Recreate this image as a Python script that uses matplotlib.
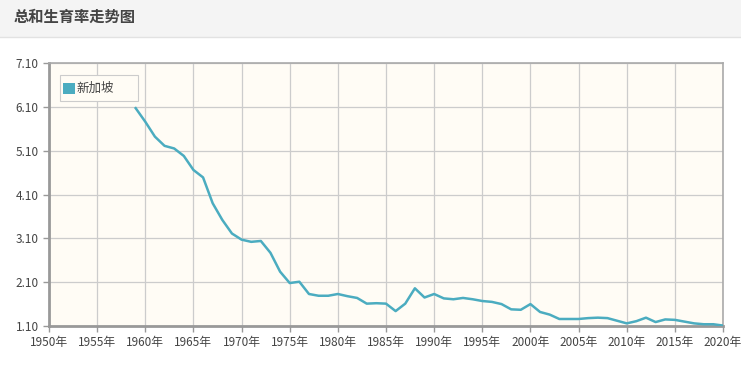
import matplotlib
matplotlib.use("Agg")
import matplotlib.pyplot as plt
from matplotlib.patches import Rectangle

plt.rcParams['font.family'] = ['Noto Sans CJK SC', 'DejaVu Sans']

# 新加坡 总和生育率
years = list(range(1959, 2021))
tfr = [6.07, 5.76, 5.42, 5.21, 5.15, 4.98, 4.66, 4.49, 3.90, 3.52,
       3.21, 3.07, 3.02, 3.04, 2.77, 2.34, 2.08, 2.11, 1.83, 1.79,
       1.79, 1.83, 1.78, 1.74, 1.61, 1.62, 1.61, 1.44, 1.61, 1.96,
       1.75, 1.83, 1.73, 1.71, 1.74, 1.71, 1.67, 1.65, 1.60, 1.48,
       1.47, 1.60, 1.42, 1.36, 1.26, 1.26, 1.26, 1.28, 1.29, 1.28,
       1.22, 1.16, 1.21, 1.29, 1.19, 1.25, 1.24, 1.20, 1.16, 1.14,
       1.14, 1.11]
xticks = list(range(1950, 2021, 5))
yticks = [1.10, 2.10, 3.10, 4.10, 5.10, 6.10, 7.10]
series_name = "新加坡"
title = "总和生育率走势图"
line_color = "#4bacc0"

W, H = 741, 366
fig = plt.figure(figsize=(W/100, H/100), dpi=100)
fig.patch.set_facecolor("white")

def px(x, y):
    # pixel (from top-left) -> figure fraction
    return x / W, 1 - y / H

# header bar
fig.patches.append(Rectangle(px(0, 37), 1, 37/H, transform=fig.transFigure,
                             facecolor="#f4f4f4", edgecolor="none", zorder=0))
fig.lines.append(plt.Line2D([0, 1], [1 - 37/H, 1 - 37/H], transform=fig.transFigure,
                            color="#e2e2e2", lw=1))
fig.text(*px(14, 17), title, fontsize=11, fontweight="bold",
         color="#444444", va="center", ha="left")

ax = fig.add_axes([49/W, 1 - 326/H, 674/W, 263/H])
ax.set_facecolor("#fffcf5")
ax.plot(years, tfr, color=line_color, lw=1.8, zorder=3)

ax.set_xlim(1950, 2020)
ax.set_ylim(1.10, 7.10)
ax.set_xticks(xticks)
ax.set_xticklabels([f"{y}年" for y in xticks])
ax.set_yticks(yticks)
ax.set_yticklabels([f"{v:.2f}" for v in yticks])
ax.grid(True, color="#cccccc", lw=0.9)
ax.tick_params(axis="both", labelsize=8.5, colors="#999999", labelcolor="#444444",
               length=4, width=1)
for side in ["left", "bottom"]:
    ax.spines[side].set_color("#999999")
    ax.spines[side].set_linewidth(2)
for side in ["top", "right"]:
    ax.spines[side].set_color("#aaaaaa")
    ax.spines[side].set_linewidth(1.2)

# legend box drawn by hand (wide box like the original)
x0, y0 = px(60, 101)
fig.patches.append(Rectangle((x0, y0), 78/W, 26/H, transform=fig.transFigure,
                             facecolor="#fffcf5", edgecolor="#cccccc", lw=0.8, zorder=5))
sx, sy = px(63, 94)
fig.patches.append(Rectangle((sx, sy), 12/W, 11/H, transform=fig.transFigure,
                             facecolor=line_color, edgecolor="none", zorder=6))
fig.text(*px(76, 88), series_name, fontsize=9, color="#444444",
         va="center", ha="left", zorder=6)

fig.savefig("out.png", dpi=100, facecolor=fig.get_facecolor())
